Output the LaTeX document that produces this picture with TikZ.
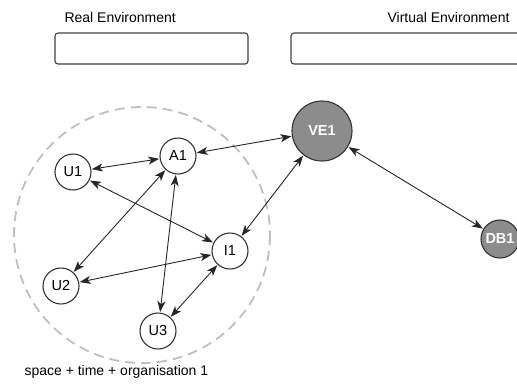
\documentclass[tikz,border=0pt]{standalone}
\usepackage{fontspec}
\setmainfont{Liberation Sans}
\usetikzlibrary{arrows.meta}
\begin{document}
\begin{tikzpicture}[x=1pt,y=-1pt,
  every node/.style={font=\fontsize{14}{16}\selectfont},
  small/.style={circle,draw=black!80,line width=1.1pt,fill=white,minimum size=36pt,inner sep=0pt,font=\fontsize{14.5}{16}\selectfont},
  big/.style={circle,draw=black!80,line width=1.1pt,fill=black!45,text=white,font=\fontsize{14.5}{16}\selectfont\bfseries,inner sep=0pt},
  envbox/.style={draw=black!75,line width=1.1pt,rounded corners=3pt},
  link/.style={{Stealth[length=11pt,width=8pt,inset=3pt]}-{Stealth[length=11pt,width=8pt,inset=3pt]},line width=0.9pt,black!85,shorten <=0.5pt,shorten >=0.5pt}]
\useasboundingbox (0,0) rectangle (517,389);
% environment labels and boxes
\node[anchor=west] (realLabel) at (61,17) {Real Environment};
\node[anchor=east] (virtLabel) at (513,17) {Virtual Environment};
\draw[envbox] (55,33) rectangle (248,64);
\draw[envbox] (291,33) rectangle (540,64);
% dashed region
\draw[black!25,line width=1.8pt,dash pattern=on 10pt off 6pt] (142,235) circle (128);
\node[anchor=west] (org) at (21,372) {space + time + organisation 1};
% nodes
\node[small] (U1) at (73,172) {U1};
\node[small] (A1) at (178,156) {A1};
\node[small] (I1) at (230,251) {I1};
\node[small] (U2) at (61,286) {U2};
\node[small] (U3) at (158,331) {U3};
\node[big,minimum size=60pt] (VE1) at (322,131) {VE1};
\node[big,minimum size=38pt] (DB1) at (500,239) {DB1};
% connectors
\draw[link] (U1) -- (A1);
\draw[link] (U1) -- (I1);
\draw[link] (A1) -- (U2);
\draw[link] (A1) -- (U3);
\draw[link] (U2) -- (I1);
\draw[link] (U3) -- (I1);
\draw[link] (A1) -- (VE1);
\draw[link] (I1) -- (VE1);
\draw[link] (VE1) -- (DB1);
\end{tikzpicture}
\end{document}
